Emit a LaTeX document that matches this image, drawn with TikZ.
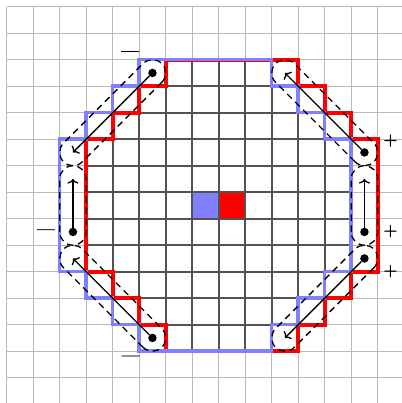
\documentclass[tikz,border=0pt]{standalone}
\usepackage{fontspec}
\usetikzlibrary{arrows.meta}
\newfontfamily\signfont{Latin Modern Roman}[FakeBold=2.5,Ligatures=TeX]
\begin{document}
\begin{tikzpicture}[
  lightgrid/.style={draw=black!27, line width=1.2pt},
  darkgrid/.style={draw=black!68, line width=2.4pt},
  blueb/.style={draw=blue!50, line width=3.8pt},
  redb/.style={draw=red, line width=4pt},
  capdash/.style={draw=black, line width=1.4pt, dash pattern=on 7pt off 5pt},
  flow/.style={draw=black, line width=1.4pt, -{To[length=5pt,width=12pt]}},
  dot/.style={circle, fill=black, inner sep=0pt, minimum size=0.32cm},
  sign/.style={inner sep=0pt, font=\fontsize{20}{24}\signfont},
  octa/.style={insert path={(5,-2) -- (5,-3) -- (4,-3) -- (4,-4) -- (3,-4) -- (3,-5) -- (2,-5) -- (2,-10) -- (3,-10) -- (3,-11) -- (4,-11) -- (4,-12) -- (5,-12) -- (5,-13) -- (10,-13) -- (10,-12) -- (11,-12) -- (11,-11) -- (12,-11) -- (12,-10) -- (13,-10) -- (13,-5) -- (12,-5) -- (12,-4) -- (11,-4) -- (11,-3) -- (10,-3) -- (10,-2) -- cycle}},
  pics/capsule/.style={code={
    \draw[capdash] (0,0.5) -- (#1,0.5) arc (90:-90:0.5) -- (0,-0.5) arc (-90:-270:0.5) -- cycle;
  }},
]
\useasboundingbox (-0.253,0.253) rectangle (14.917,-14.955);
\clip (-0.253,0.253) rectangle (14.917,-14.955);
% light background grid
\draw[lightgrid] (0,0) grid (16,-16);
% coloured cells
\fill[blue!50] (7,-7) rectangle (8,-8);
\fill[red] (8,-7) rectangle (9,-8);
% dark grid in the overlap region
\begin{scope}
  \clip[octa];
  \clip[shift={(1,0)}, octa];
  \draw[darkgrid] (0,0) grid (16,-16);
\end{scope}
% boundaries
\draw[redb, shift={(1,0)}, octa];
\draw[blueb, octa];
% capsules
\pic[rotate=225] at (5.5,-2.5) {capsule=4.2426};
\pic[rotate=135] at (13.5,-5.5) {capsule=4.2426};
\pic[rotate=135] at (5.5,-12.5) {capsule=4.2426};
\pic[rotate=225] at (13.5,-9.5) {capsule=4.2426};
\pic[rotate=90] at (2.5,-8.5) {capsule=2};
\pic[rotate=90] at (13.5,-8.5) {capsule=2};
% dots and arrow ends
\node[dot] (tl) at (5.5,-2.5) {};
\coordinate (tlE) at (2.5,-5.5);
\node[dot] (lv) at (2.5,-8.5) {};
\coordinate (lvE) at (2.5,-6.5);
\node[dot] (bl) at (5.5,-12.5) {};
\coordinate (blE) at (2.5,-9.5);
\node[dot] (tr) at (13.5,-5.5) {};
\coordinate (trE) at (10.5,-2.5);
\node[dot] (rv) at (13.5,-8.5) {};
\coordinate (rvE) at (13.5,-6.5);
\node[dot] (br) at (13.5,-9.5) {};
\coordinate (brE) at (10.5,-12.5);
\draw[flow] (tl) -- (tlE);
\draw[flow] (lv) -- (lvE);
\draw[flow] (bl) -- (blE);
\draw[flow] (tr) -- (trE);
\draw[flow] (rv) -- (rvE);
\draw[flow] (br) -- (brE);
% signs
\node[sign] (s1) at (4.66,-1.78) {—};
\node[sign] (s2) at (1.48,-8.51) {—};
\node[sign] (s3) at (4.68,-13.27) {—};
\node[sign] (s4) at (14.48,-5.05) {+};
\node[sign] (s5) at (14.48,-8.47) {+};
\node[sign] (s6) at (14.48,-9.98) {+};
\end{tikzpicture}
\end{document}
